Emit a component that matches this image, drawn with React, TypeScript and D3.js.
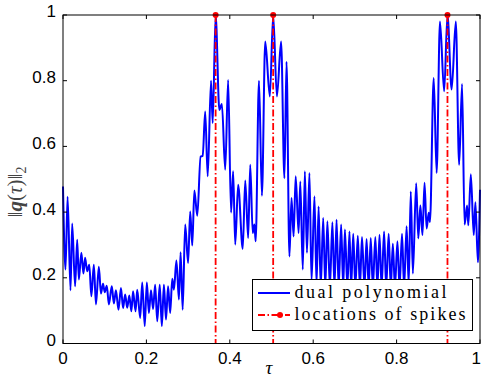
import React, { useEffect, useRef } from 'react';
import * as d3 from 'd3';

// local extrema of the dual polynomial
const tau = [
  0.000, 0.006, 0.011, 0.018, 0.022, 0.029, 0.034, 0.038, 0.044, 0.049,
  0.053, 0.058, 0.063, 0.068, 0.074, 0.079, 0.086, 0.091, 0.096, 0.100,
  0.105, 0.110, 0.117, 0.122, 0.127, 0.133, 0.139, 0.144, 0.149, 0.154,
  0.159, 0.164, 0.168, 0.174, 0.178, 0.185, 0.190, 0.196, 0.201, 0.206,
  0.211, 0.216, 0.221, 0.226, 0.232, 0.237, 0.242, 0.247, 0.252, 0.257,
  0.262, 0.266, 0.272, 0.278, 0.282, 0.287, 0.293, 0.300, 0.305, 0.310,
  0.315, 0.322, 0.330, 0.335, 0.341, 0.347, 0.355, 0.359, 0.366, 0.375,
  0.381, 0.389, 0.396, 0.403, 0.408, 0.413, 0.420, 0.431, 0.437, 0.444,
  0.449, 0.455, 0.459, 0.462, 0.470, 0.477, 0.485, 0.496, 0.504, 0.513,
  0.523, 0.531, 0.536, 0.543, 0.548, 0.553, 0.558, 0.565, 0.569, 0.575,
  0.580, 0.585, 0.591, 0.596, 0.603, 0.608, 0.613, 0.618, 0.624, 0.629,
  0.634, 0.640, 0.646, 0.651, 0.656, 0.661, 0.667, 0.672, 0.676, 0.682,
  0.687, 0.691, 0.696, 0.701, 0.707, 0.712, 0.717, 0.723, 0.728, 0.733,
  0.738, 0.743, 0.749, 0.754, 0.759, 0.764, 0.770, 0.775, 0.781, 0.786,
  0.791, 0.796, 0.802, 0.807, 0.813, 0.818, 0.824, 0.829, 0.834, 0.839,
  0.847, 0.852, 0.857, 0.862, 0.867, 0.872, 0.877, 0.880, 0.889, 0.896,
  0.904, 0.914, 0.922, 0.932, 0.942, 0.950, 0.957, 0.963, 0.969, 0.972,
  0.978, 0.985, 0.989, 0.995, 1.000,
];
const qNorm = [
  0.478, 0.225, 0.447, 0.162, 0.365, 0.174, 0.316, 0.195, 0.276, 0.213,
  0.261, 0.220, 0.240, 0.144, 0.240, 0.119, 0.234, 0.152, 0.182, 0.156,
  0.176, 0.119, 0.174, 0.122, 0.162, 0.103, 0.169, 0.108, 0.149, 0.109,
  0.146, 0.098, 0.159, 0.098, 0.164, 0.078, 0.186, 0.053, 0.186, 0.093,
  0.162, 0.105, 0.179, 0.068, 0.179, 0.053, 0.179, 0.073, 0.174, 0.093,
  0.197, 0.164, 0.253, 0.134, 0.278, 0.103, 0.362, 0.245, 0.402, 0.298,
  0.466, 0.389, 0.569, 0.571, 0.706, 0.509, 0.800, 0.671, 1.000, 0.711,
  0.729, 0.529, 0.802, 0.399, 0.524, 0.301, 0.483, 0.288, 0.496, 0.321,
  0.544, 0.336, 0.362, 0.311, 0.800, 0.450, 0.919, 0.752, 1.000, 0.752,
  0.919, 0.503, 0.858, 0.265, 0.443, 0.326, 0.509, 0.336, 0.493, 0.225,
  0.524, 0.276, 0.519, 0.190, 0.448, 0.180, 0.417, 0.170, 0.382, 0.170,
  0.372, 0.170, 0.369, 0.170, 0.377, 0.170, 0.362, 0.170, 0.347, 0.170,
  0.341, 0.170, 0.334, 0.170, 0.328, 0.170, 0.324, 0.170, 0.318, 0.170,
  0.321, 0.170, 0.324, 0.170, 0.331, 0.170, 0.341, 0.170, 0.334, 0.170,
  0.304, 0.170, 0.311, 0.170, 0.334, 0.170, 0.357, 0.180, 0.463, 0.213,
  0.488, 0.320, 0.420, 0.330, 0.489, 0.350, 0.398, 0.370, 0.808, 0.519,
  0.980, 0.768, 1.000, 0.773, 0.980, 0.544, 0.790, 0.362, 0.420, 0.360,
  0.515, 0.330, 0.430, 0.247, 0.468,
];
const spikeTau = [0.366, 0.504, 0.922];
const xTicks = [0, 0.2, 0.4, 0.6, 0.8, 1];
const yTicks = [0, 0.2, 0.4, 0.6, 0.8, 1];
const legendLabels = ['dual polynomial', 'locations of spikes'];

const App = () => {
  const ref = useRef(null);
  const width = 482;
  const height = 377;

  useEffect(() => {
    const svg = d3.select(ref.current);
    svg.selectAll('*').remove();

    const x = d3.scaleLinear().domain([0, 1]).range([63, 480]);
    const y = d3.scaleLinear().domain([0, 1]).range([343.5, 15]);
    const tickFont = '"Liberation Sans", Arial, sans-serif';
    const serif = '"Liberation Serif", "DejaVu Serif", serif';

    svg.append('rect').attr('width', width).attr('height', height).attr('fill', '#fff');

    // curve
    const pts = tau.map((t, i) => [t, qNorm[i]]);
    const line = d3.line()
      .x(d => x(d[0]))
      .y(d => y(d[1]))
      .curve(d3.curveMonotoneX);
    svg.append('path')
      .datum(pts)
      .attr('fill', 'none')
      .attr('stroke', '#0000ff')
      .attr('stroke-width', 2)
      .attr('stroke-linejoin', 'round')
      .attr('d', line);

    // spikes
    spikeTau.forEach(s => {
      svg.append('line')
        .attr('x1', x(s)).attr('x2', x(s))
        .attr('y1', y(1)).attr('y2', y(0))
        .attr('stroke', '#ff0000')
        .attr('stroke-width', 1.8)
        .attr('stroke-dasharray', '7 2.5 1.5 2.5');
      svg.append('circle')
        .attr('cx', x(s)).attr('cy', y(1)).attr('r', 3)
        .attr('fill', '#ff0000');
    });

    // axes box
    svg.append('rect')
      .attr('x', x(0)).attr('y', y(1))
      .attr('width', x(1) - x(0)).attr('height', y(0) - y(1))
      .attr('fill', 'none').attr('stroke', '#000').attr('stroke-width', 1);

    xTicks.forEach(t => {
      svg.append('line').attr('x1', x(t)).attr('x2', x(t))
        .attr('y1', y(0)).attr('y2', y(0) - 4).attr('stroke', '#000');
      svg.append('line').attr('x1', x(t)).attr('x2', x(t))
        .attr('y1', y(1)).attr('y2', y(1) + 4).attr('stroke', '#000');
      svg.append('text')
        .attr('x', t === 1 ? 481 : x(t)).attr('y', 364)
        .attr('text-anchor', t === 1 ? 'end' : 'middle')
        .style('font-family', tickFont).style('font-size', '17px')
        .text(String(t));
    });
    yTicks.forEach(t => {
      svg.append('line').attr('x1', x(0)).attr('x2', x(0) + 4)
        .attr('y1', y(t)).attr('y2', y(t)).attr('stroke', '#000');
      svg.append('line').attr('x1', x(1)).attr('x2', x(1) - 4)
        .attr('y1', y(t)).attr('y2', y(t)).attr('stroke', '#000');
      svg.append('text')
        .attr('x', 56).attr('y', y(t) - 2)
        .attr('text-anchor', 'end')
        .attr('dominant-baseline', 'middle')
        .style('font-family', tickFont).style('font-size', '17px')
        .text(String(t));
    });

    // x label
    svg.append('text')
      .attr('x', 269).attr('y', 374)
      .attr('text-anchor', 'middle')
      .style('font-family', serif).style('font-style', 'italic').style('font-size', '19px')
      .text('τ');

    // y label
    const yl = svg.append('text')
      .attr('transform', 'translate(22,192) rotate(-90)')
      .attr('text-anchor', 'middle')
      .attr('fill', '#444')
      .style('font-family', serif).style('font-size', '21px');
    yl.append('tspan').text('‖');
    yl.append('tspan').style('font-weight', 'bold').style('font-style', 'italic').text('q');
    yl.append('tspan').text('(');
    yl.append('tspan').style('font-style', 'italic').text('τ');
    yl.append('tspan').text(')‖');
    yl.append('tspan').attr('dy', 4).style('font-size', '14px').text('2');

    // legend
    const lg = svg.append('g');
    lg.append('rect')
      .attr('x', 252.5).attr('y', 279.5).attr('width', 220).attr('height', 51)
      .attr('fill', '#fff').attr('stroke', '#000').attr('stroke-width', 1);
    lg.append('line')
      .attr('x1', 258).attr('x2', 290).attr('y1', 293).attr('y2', 293)
      .attr('stroke', '#0000ff').attr('stroke-width', 2);
    lg.append('line')
      .attr('x1', 258).attr('x2', 290).attr('y1', 315).attr('y2', 315)
      .attr('stroke', '#ff0000').attr('stroke-width', 1.8)
      .attr('stroke-dasharray', '7 2.5 1.5 2.5');
    lg.append('circle').attr('cx', 280).attr('cy', 315).attr('r', 3).attr('fill', '#ff0000');
    const widths = [152, 171];
    legendLabels.forEach((lab, i) => {
      lg.append('text')
        .attr('x', 294.5).attr('y', 298 + i * 22)
        .attr('textLength', widths[i])
        .attr('lengthAdjust', 'spacing')
        .style('font-family', serif).style('font-size', '18px')
        .text(lab);
    });
  }, []);

  return (
    <svg
      ref={ref}
      width={width}
      height={height}
      style={{ position: 'absolute', left: 0, top: 0 }}
    />
  );
};

export default App;
